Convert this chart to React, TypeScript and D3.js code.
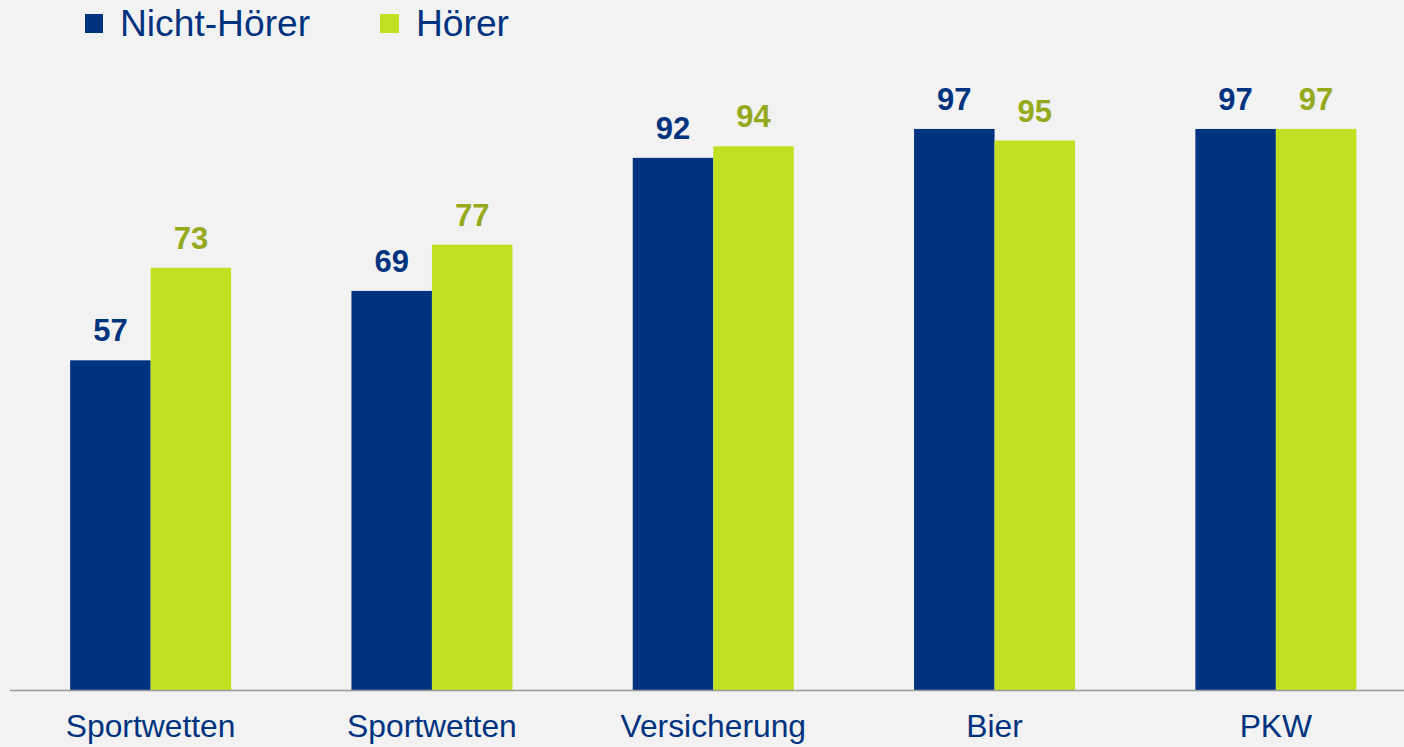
import React from "react";
import * as d3 from "d3";

const categories = ["Sportwetten", "Sportwetten", "Versicherung", "Bier", "PKW"];
const nichtHoerer = [57, 69, 92, 97, 97];
const hoerer = [73, 77, 94, 95, 97];
const seriesNames = ["Nicht-Hörer", "Hörer"];

const W = 1404;
const H = 747;
const BLUE = "#00337f";
const GREEN = "#c0e021";
const GREEN_TEXT = "#94aa1c";
const FONT = "Arial, 'Liberation Sans', sans-serif";

export default function App() {
  const baseline = 690;
  const idx = categories.map((_, i) => String(i));
  const x = d3.scaleBand<string>().domain(idx).range([10, 1416.5]).padding(0);
  const y = d3.scaleLinear().domain([0, 100]).range([baseline, baseline - 578.4]);
  const barW = 80.5;
  const series = [
    { name: seriesNames[0], values: nichtHoerer, color: BLUE, text: BLUE },
    { name: seriesNames[1], values: hoerer, color: GREEN, text: GREEN_TEXT },
  ];

  return (
    <svg
      width={W}
      height={H}
      style={{ position: "absolute", left: 0, top: 0, background: "#f2f2f2" }}
    >
      <rect x={0} y={0} width={W} height={H} fill="#f2f2f2" />
      {/* legend */}
      <rect x={85} y={14} width={18} height={19} fill={BLUE} />
      <text x={120} y={36} fontFamily={FONT} fontSize={37.2} fill={BLUE}>
        {seriesNames[0]}
      </text>
      <rect x={380} y={14} width={19} height={19} fill={GREEN} />
      <text x={416} y={36} fontFamily={FONT} fontSize={37.2} fill={BLUE}>
        {seriesNames[1]}
      </text>

      {categories.map((c, i) => {
        const cx = (x(String(i)) as number) + x.bandwidth() / 2;
        return (
          <g key={i}>
            {series.map((s, j) => {
              const bx = cx - barW + j * barW;
              const v = s.values[i];
              return (
                <g key={j}>
                  <rect x={bx} y={y(v)} width={barW} height={baseline - y(v)} fill={s.color} />
                  <text
                    x={bx + barW / 2}
                    y={y(v) - 19}
                    textAnchor="middle"
                    fontFamily={FONT}
                    fontWeight="bold"
                    fontSize={31}
                    fill={s.text}
                  >
                    {v}
                  </text>
                </g>
              );
            })}
            <text
              x={cx}
              y={737}
              textAnchor="middle"
              fontFamily={FONT}
              fontSize={31.8}
              fill={BLUE}
            >
              {c}
            </text>
          </g>
        );
      })}
      <line x1={10} x2={W} y1={baseline + 0.5} y2={baseline + 0.5} stroke="#9a9a9a" strokeWidth={1.5} />
    </svg>
  );
}
